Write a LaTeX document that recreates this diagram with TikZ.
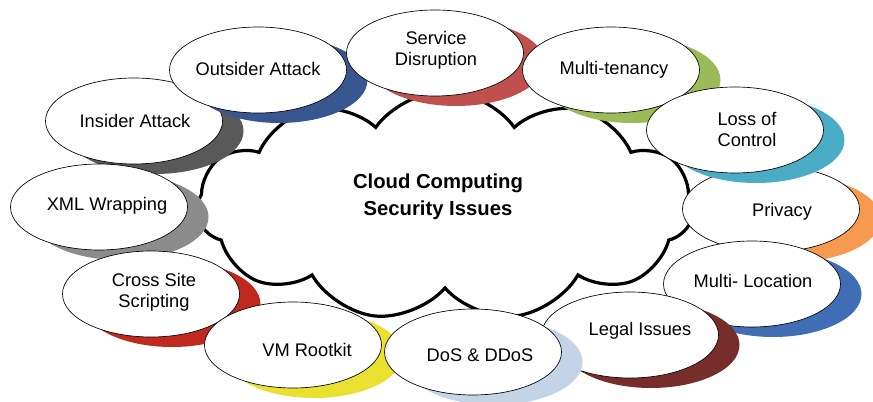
\documentclass[tikz,border=0pt]{standalone}
\usepackage{fontspec}
\setmainfont{Liberation Sans}
\usepackage{tikz}
\usetikzlibrary{shapes.symbols,shapes.geometric}

\definecolor{outsiderBlue}{HTML}{385690}
\definecolor{serviceRed}{HTML}{C0504D}
\definecolor{tenancyGreen}{HTML}{9BBB59}
\definecolor{privacyOrange}{HTML}{F59A50}
\definecolor{lossTeal}{HTML}{4BACC6}
\definecolor{locationBlue}{HTML}{406EB4}
\definecolor{legalBrown}{HTML}{772E2A}
\definecolor{insiderGray}{HTML}{595959}
\definecolor{xmlGray}{HTML}{8C8C8C}
\definecolor{crossRed}{HTML}{C0291E}
\definecolor{vmYellow}{HTML}{E9E02F}
\definecolor{dosBlue}{HTML}{C3D4E6}

\begin{document}
\begin{tikzpicture}[x=0.75pt,y=0.75pt,yscale=-1,xscale=1,
  issue/.style={ellipse,draw=black,line width=0.5pt,fill=white,minimum width=132.75pt,minimum height=64.5pt,inner sep=0pt},
  backdrop/.style={ellipse,fill=#1,minimum width=132.75pt,minimum height=64.5pt,inner sep=0pt},
  txt/.style={inner sep=0.75pt,align=center,font=\fontsize{13.7}{15.75}\selectfont}]
\useasboundingbox (0,0) rectangle (873,402);

%Shape: Cloud
\node [cloud,cloud puffs=11,cloud puff arc=110,cloud ignores aspect,draw=black,line width=2.4pt,fill=white,minimum width=372pt,minimum height=172pt,inner sep=0pt] (cloud) at (445,206) {};

%Shape: Ellipse
\node [backdrop=insiderGray] (insiderS) at (155,131) {};
\node [issue] (insider) at (134,121) {};
%Shape: Ellipse
\node [backdrop=outsiderBlue] (outsiderS) at (279,80) {};
\node [issue] (outsider) at (258,70) {};
%Shape: Ellipse
\node [backdrop=serviceRed] (serviceS) at (456,63) {};
\node [issue] (service) at (435,53) {};
%Shape: Ellipse
\node [backdrop=tenancyGreen] (tenancyS) at (632,80) {};
\node [issue] (tenancy) at (611,70) {};
%Shape: Ellipse
\node [backdrop=privacyOrange] (privacyS) at (792,219) {};
\node [issue] (privacy) at (771,209) {};
%Shape: Ellipse
\node [backdrop=lossTeal] (lossS) at (756,140) {};
\node [issue] (loss) at (735,130) {};
%Shape: Ellipse
\node [backdrop=locationBlue] (locationS) at (773,294) {};
\node [issue] (location) at (752,284) {};
%Shape: Ellipse
\node [backdrop=legalBrown] (legalS) at (651,345) {};
\node [issue] (legal) at (630,335) {};
%Shape: Ellipse
\node [backdrop=xmlGray] (xmlS) at (120,217) {};
\node [issue] (xml) at (99,207) {};
%Shape: Ellipse
\node [backdrop=crossRed] (crossS) at (172,304) {};
\node [issue] (cross) at (151,294) {};
%Shape: Ellipse
\node [backdrop=vmYellow] (vmS) at (314,355) {};
\node [issue] (vm) at (293,345) {};
%Shape: Ellipse
\node [backdrop=dosBlue] (dosS) at (494,362) {};
\node [issue] (dos) at (473,352) {};

% Text Node
\node [inner sep=0.75pt,align=center,font=\fontsize{15.2}{20}\selectfont\bfseries] (title) at (438,197) {Cloud Computing\\Security Issues};
% Text Node
\node [txt] (insiderT) at (135,121) {Insider Attack};
% Text Node
\node [txt] (outsiderT) at (258,69) {Outsider Attack};
% Text Node
\node [txt] (serviceT) at (436,50) {Service\\Disruption};
% Text Node
\node [txt] (tenancyT) at (614,70) {Multi-tenancy};
% Text Node
\node [txt] (lossT) at (747,129) {Loss of\\Control};
% Text Node
\node [txt] (privacyT) at (782,212) {Privacy};
% Text Node
\node [txt] (locationT) at (753,281) {Multi- Location};
% Text Node
\node [txt] (legalT) at (640,331) {Legal Issues};
% Text Node
\node [txt] (dosT) at (480,355) {DoS \& DDoS};
% Text Node
\node [txt] (vmT) at (307,350) {VM Rootkit};
% Text Node
\node [txt] (crossT) at (154,292) {Cross Site\\Scripting};
% Text Node
\node [txt] (xmlT) at (107,206) {XML Wrapping};

\end{tikzpicture}
\end{document}
